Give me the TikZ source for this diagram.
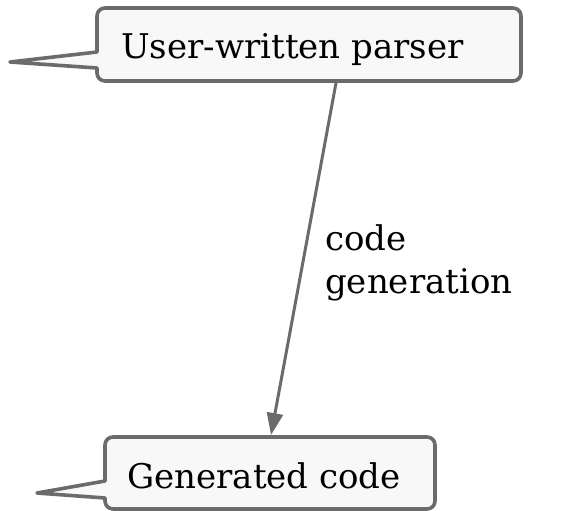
\documentclass[tikz,border=0pt]{standalone}
\usepackage{fontspec}
\setmainfont{DejaVu Serif}
\usetikzlibrary{arrows.meta}
\definecolor{edge}{HTML}{6B6B6B}
\definecolor{boxfill}{HTML}{F8F8F8}
\tikzset{
  callout/.style={draw=edge, fill=boxfill, line width=3.6pt, line join=round},
  txt/.style={inner sep=0pt, anchor=base west, font=\fontsize{34}{43}\selectfont},
  flow/.style={draw=edge, line width=3pt, -{Triangle[length=22pt,width=16pt]}}
}
\begin{document}
\begin{tikzpicture}[x=1pt,y=-1pt]
\useasboundingbox (0,0) rectangle (565,511);
% upper callout
\draw[callout] (10,62) -- (97,52) [rounded corners=8pt] -- (97,8) -- (521,8) -- (521,81) -- (97,81) [sharp corners] -- (97,68) -- cycle;
\node[txt] (parser) at (121,59) {User-written parser};
% lower callout
\draw[callout] (37,493) -- (105,481) [rounded corners=8pt] -- (105,437) -- (435,437) -- (435,509) -- (105,509) [sharp corners] -- (105,498) -- cycle;
\node[txt] (gen) at (127,488) {Generated code};
% connector
\coordinate (from) at (336,83);
\coordinate (to) at (271,435);
\draw[flow] (from) -- (to);
\node[txt, align=left] (lbl) at (325,293) {code\\generation};
\end{tikzpicture}
\end{document}
